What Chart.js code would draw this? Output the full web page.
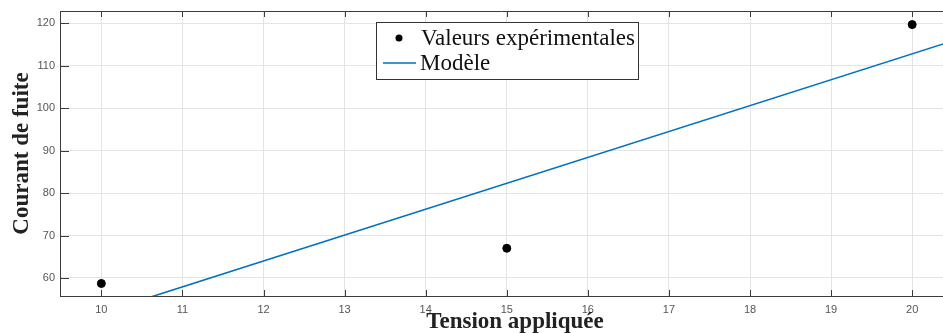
<!DOCTYPE html>
<html>
<head>
<meta charset="utf-8">
<script src="https://cdn.jsdelivr.net/npm/chart.js@4.4.0/dist/chart.umd.min.js"></script>
<style>
  html, body { margin: 0; padding: 0; background: #fff; }
  #wrap { width: 943px; height: 333px; }
</style>
</head>
<body>
<div id="wrap"><canvas id="courantChart" width="943" height="333"></canvas></div>
<script>
// measured points
const tensionPoints = [10, 15, 20];
const courantPoints = [58.7, 67.0, 119.7];

// fitted model (straight line), ends outside the visible window
const tensionModele = [9, 21];
const courantModele = [45.7, 118.9];

const xTicks = [10, 11, 12, 13, 14, 15, 16, 17, 18, 19, 20];
const yTicks = [60, 70, 80, 90, 100, 110, 120];

const xLimits = [9.49, 20.38];
const yLimits = [55.75, 122.9];

const labelPoints = 'Valeurs expérimentales';
const labelModele = 'Modèle';
const titreX = 'Tension appliquée';
const titreY = 'Courant de fuite';

const frameColor = '#3c3c3c';
const lineColor = '#0072BD';

// frame, inward ticks, axis titles and legend box
const matlabLook = {
    id: 'matlabLook',
    afterDraw(chart) {
        const ctx = chart.ctx;
        const a = chart.chartArea;
        const xs = chart.scales.x;
        const ys = chart.scales.y;
        ctx.save();
        ctx.strokeStyle = frameColor;
        ctx.lineWidth = 1;
        ctx.beginPath();
        ctx.moveTo(a.left, a.top + 0.5);
        ctx.lineTo(a.right, a.top + 0.5);
        xTicks.forEach(v => {
            const px = Math.round(xs.getPixelForValue(v)) + 0.5;
            ctx.moveTo(px, a.top);
            ctx.lineTo(px, a.top + 6);
            ctx.moveTo(px, a.bottom);
            ctx.lineTo(px, a.bottom - 6);
        });
        yTicks.forEach(v => {
            const py = Math.round(ys.getPixelForValue(v)) + 0.5;
            ctx.moveTo(a.left, py);
            ctx.lineTo(a.left + 9, py);
        });
        ctx.stroke();

        // axis titles
        ctx.fillStyle = '#222';
        ctx.font = 'bold 23px "Liberation Serif", "Times New Roman", serif';
        ctx.textAlign = 'center';
        ctx.textBaseline = 'alphabetic';
        ctx.fillText(titreX, 515, 328);
        ctx.save();
        ctx.translate(28, (a.top + a.bottom) / 2);
        ctx.rotate(-Math.PI / 2);
        ctx.fillText(titreY, 0, 0);
        ctx.restore();

        // legend
        const lx = a.left + 316, ly = a.top + 11, lw = 262, lh = 57;
        ctx.fillStyle = '#fff';
        ctx.fillRect(lx, ly, lw, lh);
        ctx.strokeStyle = '#333';
        ctx.strokeRect(lx + 0.5, ly + 0.5, lw, lh);
        ctx.fillStyle = '#000';
        ctx.beginPath();
        ctx.arc(lx + 23, ly + 16, 3.5, 0, Math.PI * 2);
        ctx.fill();
        ctx.strokeStyle = lineColor;
        ctx.lineWidth = 1.5;
        ctx.beginPath();
        ctx.moveTo(lx + 7, ly + 41);
        ctx.lineTo(lx + 40, ly + 41);
        ctx.stroke();
        ctx.fillStyle = '#111';
        ctx.font = '23px "Liberation Serif", "Times New Roman", serif';
        ctx.textAlign = 'left';
        ctx.textBaseline = 'middle';
        ctx.fillText(chart.data.datasets[0].label, lx + 45, ly + 17);
        ctx.fillText(chart.data.datasets[1].label, lx + 44, ly + 42);
        ctx.restore();
    }
};

new Chart(document.getElementById('courantChart'), {
    type: 'scatter',
    data: {
        datasets: [{
            label: labelPoints,
            data: tensionPoints.map((x, i) => ({ x: x, y: courantPoints[i] })),
            backgroundColor: '#000',
            borderColor: '#000',
            pointRadius: 4,
            showLine: false
        }, {
            label: labelModele,
            data: tensionModele.map((x, i) => ({ x: x, y: courantModele[i] })),
            borderColor: lineColor,
            borderWidth: 1.6,
            pointRadius: 0,
            showLine: true
        }]
    },
    options: {
        responsive: false,
        animation: false,
        layout: { autoPadding: false, padding: { top: 11, left: 0, right: 0, bottom: 0 } },
        plugins: {
            legend: { display: false },
            tooltip: { enabled: false }
        },
        scales: {
            x: {
                type: 'linear',
                min: xLimits[0],
                max: xLimits[1],
                afterFit: s => {
                    s.height = 37;
                    s.paddingLeft = 0;
                    s.paddingRight = 0;
                },
                afterBuildTicks: s => { s.ticks = xTicks.map(v => ({ value: v })); },
                ticks: {
                    includeBounds: false,
                    padding: 7,
                    color: '#555',
                    font: { family: '"Liberation Sans", Arial, sans-serif', size: 11 }
                },
                grid: { color: '#e4e4e4', drawTicks: false },
                border: { color: frameColor, width: 1 }
            },
            y: {
                type: 'linear',
                min: yLimits[0],
                max: yLimits[1],
                afterFit: s => {
                    s.width = 60;
                    s.paddingTop = 0;
                    s.paddingBottom = 0;
                },
                afterBuildTicks: s => { s.ticks = yTicks.map(v => ({ value: v })); },
                ticks: {
                    includeBounds: false,
                    padding: 5,
                    color: '#555',
                    font: { family: '"Liberation Sans", Arial, sans-serif', size: 11 }
                },
                grid: { color: '#e4e4e4', drawTicks: false },
                border: { color: frameColor, width: 1 }
            }
        }
    },
    plugins: [matlabLook]
});
</script>
</body>
</html>
